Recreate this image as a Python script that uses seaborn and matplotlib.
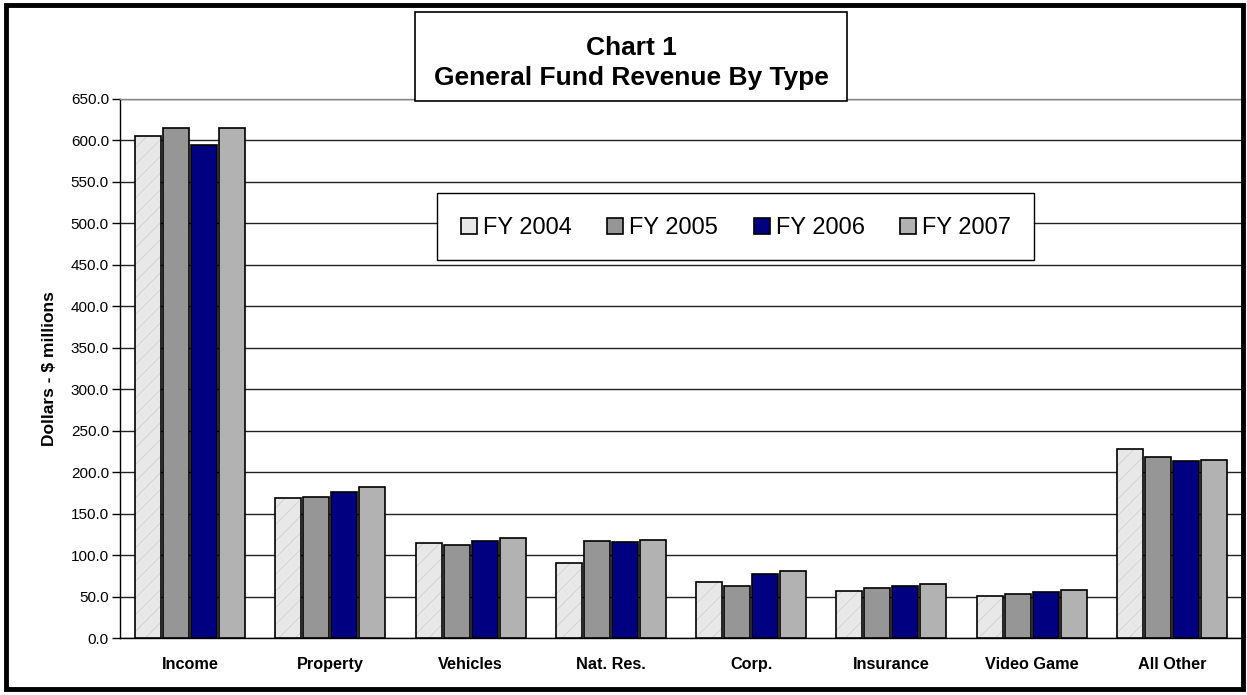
import matplotlib
matplotlib.use("Agg")
import matplotlib.pyplot as plt
import matplotlib.colors as mcolors
import seaborn as sns
import pandas as pd
from matplotlib.patches import Rectangle
from matplotlib.ticker import FormatStrFormatter, MultipleLocator

# Revenue by type, $ millions
categories = ["Income", "Property", "Vehicles", "Nat. Res.", "Corp.", "Insurance", "Video Game", "All Other"]
years = ["FY 2004", "FY 2005", "FY 2006", "FY 2007"]
fy2004 = [605.0, 169.0, 115.0, 90.0, 68.0, 57.0, 51.0, 228.0]
fy2005 = [615.0, 170.0, 112.5, 117.0, 63.0, 60.0, 53.0, 218.0]
fy2006 = [594.0, 176.0, 117.0, 116.0, 77.0, 62.5, 56.0, 214.0]
fy2007 = [615.0, 182.0, 120.5, 118.0, 81.0, 65.0, 58.0, 215.0]
colors = ["#e8e8e8", "#969696", "#000080", "#b2b2b2"]

rows = []
for year, vals in zip(years, [fy2004, fy2005, fy2006, fy2007]):
    for cat, v in zip(categories, vals):
        rows.append({"Type": cat, "Year": year, "Value": v})
df = pd.DataFrame(rows)

sns.set_theme(style="white")
plt.rcParams["font.family"] = ["Liberation Sans", "DejaVu Sans"]
for key in ["text.color", "axes.labelcolor", "xtick.color", "ytick.color"]:
    plt.rcParams[key] = "black"
plt.rcParams["hatch.linewidth"] = 0.5

W, H = 1247, 695
fig = plt.figure(figsize=(W / 100, H / 100), dpi=100)
ax = fig.add_axes([120 / W, (H - 638) / H, (1242 - 120) / W, (638 - 99) / H])

sns.barplot(data=df, x="Type", y="Value", hue="Year", order=categories, hue_order=years,
            palette=dict(zip(years, colors)), width=0.8, gap=0.07,
            edgecolor="black", linewidth=1.2, saturation=1, ax=ax, zorder=3)

# faint grain on the FY 2004 bars (marble-like fill in the original)
for bar in ax.containers[0]:
    bar.set_hatch("//")
    bar._hatch_color = mcolors.to_rgba("#cdcdcd")

ax.set_xlim(-0.5, len(categories) - 0.5)
ax.set_ylim(0, 650)
ax.yaxis.set_major_locator(MultipleLocator(50))
ax.yaxis.set_major_formatter(FormatStrFormatter("%.1f"))
ax.grid(axis="y", color="#222222", linewidth=1, zorder=0)
ax.set_axisbelow(True)

ax.set_xlabel("")
ax.set_ylabel(r"Dollars - \$ millions", fontsize=12.5, fontweight="bold", labelpad=10)
ax.set_xticks(range(len(categories)))
ax.set_xticklabels(categories, fontsize=11.7, fontweight="bold")
ax.set_xticks([i + 0.5 for i in range(-1, len(categories))], minor=True)
ax.tick_params(axis="x", which="major", length=0, pad=14)
ax.tick_params(axis="x", which="minor", length=6, width=1, color="black", direction="out")
ax.tick_params(axis="y", labelsize=11, length=6, width=1, color="black", direction="out",
               left=True, pad=2)

for side in ["left", "bottom"]:
    ax.spines[side].set_color("black")
    ax.spines[side].set_linewidth(1)
for side in ["top", "right"]:
    ax.spines[side].set_color("#888888")
    ax.spines[side].set_linewidth(1)

# legend with a white boxed frame
pw, ph = 1242 - 120, 638 - 99
ax.add_patch(Rectangle(((437 - 120) / pw, (638 - 260) / ph), (1034 - 437) / pw, (260 - 193) / ph,
                       transform=ax.transAxes, facecolor="white", edgecolor="black",
                       linewidth=1, zorder=4))
handles, labels = ax.get_legend_handles_labels()
leg = ax.legend(handles, labels, ncol=4, frameon=False, fontsize=17,
                loc="center", bbox_to_anchor=((736 - 120) / pw, (638 - 228) / ph),
                handlelength=0.68, handleheight=0.68, handletextpad=0.25, columnspacing=1.5,
                borderpad=0)
leg.set_zorder(5)
for h in leg.legend_handles:
    h.set_hatch(None)

# title box
fig.patches.append(Rectangle((415 / W, (H - 101) / H), (847 - 415) / W, (101 - 12) / H,
                             transform=fig.transFigure, facecolor="white",
                             edgecolor="black", linewidth=1.2, zorder=5))
fig.text(631 / W, (H - 63) / H, "Chart 1\nGeneral Fund Revenue By Type",
         ha="center", va="center", fontsize=19, fontweight="bold", zorder=6, linespacing=1.3)

# outer border
fig.patches.append(Rectangle((6 / W, 6 / H), (W - 10) / W, (H - 11) / H,
                             transform=fig.transFigure, fill=False,
                             edgecolor="black", linewidth=3.5, zorder=10))

fig.savefig("out.png", dpi=100)
